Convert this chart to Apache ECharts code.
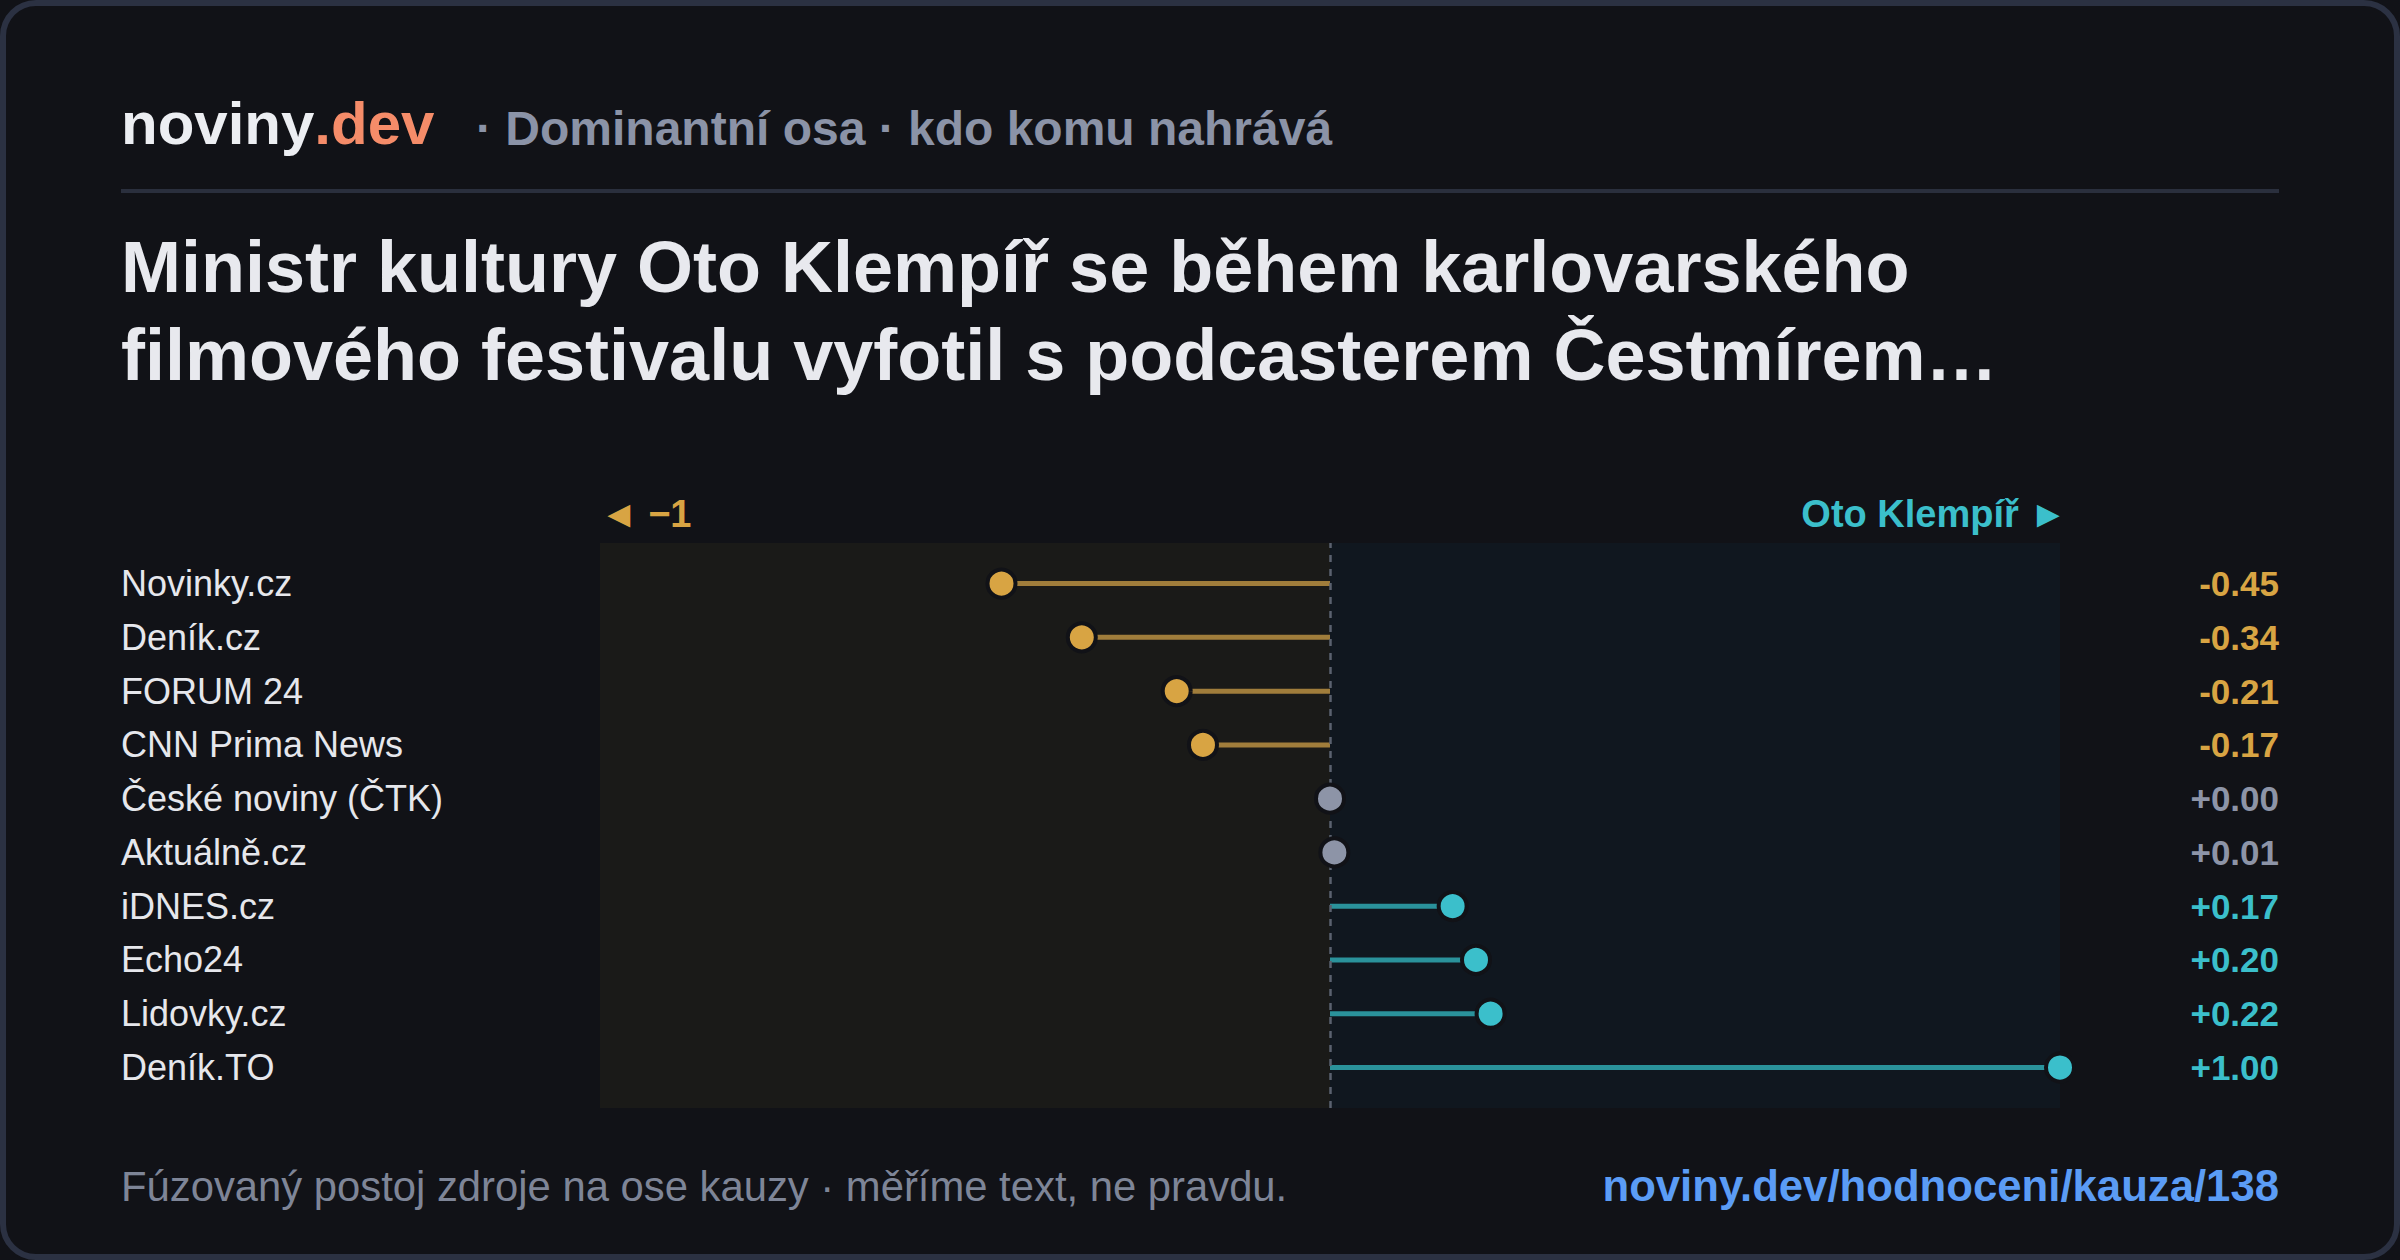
<!DOCTYPE html>
<html>
<head>
<meta charset="utf-8">
<script src="https://cdn.jsdelivr.net/npm/echarts@6/dist/echarts.min.js"></script>
<style>
  html, body { margin: 0; padding: 0; background: #111217; }
  #card {
    position: absolute; left: 0; top: 0; width: 2400px; height: 1260px;
    box-sizing: border-box; border: 6px solid #2b3142; border-radius: 36px;
  }
  #chart { position: absolute; left: 0; top: 0; width: 2400px; height: 1260px; }
</style>
</head>
<body>
<div id="card"></div>
<div id="chart"></div>
<script>
// zdroje a jejich postoj na ose kauzy
var sources = ['Novinky.cz', 'Deník.cz', 'FORUM 24', 'CNN Prima News', 'České noviny (ČTK)',
  'Aktuálně.cz', 'iDNES.cz', 'Echo24', 'Lidovky.cz', 'Deník.TO'];
var stances = [-0.45, -0.34, -0.21, -0.174, 0.0, 0.006, 0.168, 0.20, 0.22, 1.00];
var leftPole = '◄ −1';
var rightPole = 'Oto Klempíř ►';
var axisMin = -1, axisMax = 1;

var FONT = "'Liberation Sans', Arial, sans-serif";
var ORANGE = '#d8a443', TEAL = '#3bbfcb', GRAY = '#8d94a7';

function kind(v) {
  if (Math.abs(v) < 0.05) return 'mid';
  return v < 0 ? 'neg' : 'pos';
}
function dotColor(v) {
  var k = kind(v);
  return k === 'neg' ? ORANGE : (k === 'pos' ? TEAL : GRAY);
}
function stemColor(v) {
  var k = kind(v);
  return k === 'neg' ? '#a07d3b' : (k === 'pos' ? '#2a929b' : '#6b7180');
}
var valueLabels = stances.map(function (v) {
  var s = v.toFixed(2);
  return v < 0 ? s : '+' + s;
});

var ec = echarts.init(document.getElementById('chart'), null, { renderer: 'svg' });

var option = {
  animation: false,
  backgroundColor: 'transparent',
  textStyle: { fontFamily: FONT },
  grid: [
    // podklad panelu
    { left: 600, width: 1460, top: 543, height: 565 },
    // data
    { left: 600, width: 1460, top: 556.7, height: 537.7 }
  ],
  xAxis: [
    { gridIndex: 0, type: 'value', min: axisMin, max: axisMax, show: false },
    { gridIndex: 1, type: 'value', min: axisMin, max: axisMax, show: false }
  ],
  yAxis: [
    { gridIndex: 0, type: 'value', min: 0, max: 1, show: false },
    {
      gridIndex: 1, type: 'category', inverse: true, data: sources,
      axisLine: { show: false }, axisTick: { show: false }, splitLine: { show: false },
      axisLabel: { align: 'left', margin: 479, color: '#e6e7ec', fontSize: 36, fontFamily: FONT }
    },
    {
      gridIndex: 1, type: 'category', inverse: true, position: 'right', data: valueLabels,
      axisLine: { show: false }, axisTick: { show: false }, splitLine: { show: false },
      axisLabel: {
        align: 'right', margin: 219,
        formatter: function (val, idx) { return '{' + kind(stances[idx]) + '|' + val + '}'; },
        rich: {
          neg: { color: ORANGE, fontSize: 35, fontWeight: 'bold', fontFamily: FONT },
          mid: { color: GRAY, fontSize: 35, fontWeight: 'bold', fontFamily: FONT },
          pos: { color: TEAL, fontSize: 35, fontWeight: 'bold', fontFamily: FONT }
        }
      }
    }
  ],
  series: [
    {
      type: 'line', xAxisIndex: 0, yAxisIndex: 0, data: [[0, 0.5]],
      showSymbol: false, silent: true, lineStyle: { opacity: 0 },
      markArea: {
        silent: true,
        data: [
          [{ xAxis: axisMin, itemStyle: { color: '#1a1a18' } }, { xAxis: 0 }],
          [{ xAxis: 0, itemStyle: { color: '#10171f' } }, { xAxis: axisMax }]
        ]
      },
      markLine: {
        silent: true, symbol: 'none', label: { show: false },
        lineStyle: { color: '#5a616f', width: 2.5, type: [7, 7] },
        data: [{ xAxis: 0 }]
      },
      z: 1
    },
    {
      type: 'bar', xAxisIndex: 1, yAxisIndex: 1, barWidth: 5, silent: true,
      data: stances.map(function (v) { return { value: v, itemStyle: { color: stemColor(v) } }; }),
      z: 3
    },
    {
      type: 'scatter', xAxisIndex: 1, yAxisIndex: 1, symbolSize: 28, silent: true,
      data: stances.map(function (v, i) {
        return { value: [v, i], itemStyle: { color: dotColor(v), opacity: 1, borderColor: '#111217', borderWidth: 4 } };
      }),
      z: 5
    }
  ],
  graphic: [
    {
      type: 'text', left: 121, top: 93,
      style: {
        text: '{a|noviny}{b|.dev}',
        rich: {
          a: { fill: '#eceef2', fontSize: 60, fontWeight: 'bold', fontFamily: FONT },
          b: { fill: '#f58c69', fontSize: 60, fontWeight: 'bold', fontFamily: FONT }
        }
      }
    },
    {
      type: 'text', x: 476, y: 128,
      style: { text: '· Dominantní osa · kdo komu nahrává', fill: '#8b93a7', font: 'bold 48px ' + FONT, textVerticalAlign: 'middle' }
    },
    {
      type: 'line', shape: { x1: 121, y1: 191, x2: 2279, y2: 191 },
      style: { stroke: '#2a2f3d', lineWidth: 4 }
    },
    {
      type: 'text', x: 121, y: 267,
      style: { text: 'Ministr kultury Oto Klempíř se během karlovarského', fill: '#e8e9ee', font: 'bold 72px ' + FONT, textVerticalAlign: 'middle' }
    },
    {
      type: 'text', x: 121, y: 355,
      style: { text: 'filmového festivalu vyfotil s podcasterem Čestmírem…', fill: '#e8e9ee', font: 'bold 72px ' + FONT, textVerticalAlign: 'middle' }
    },
    {
      type: 'text', x: 600, y: 514,
      style: { text: leftPole, fill: ORANGE, font: 'bold 38px ' + FONT, textVerticalAlign: 'middle' }
    },
    {
      type: 'text', x: 2067, y: 514,
      style: { text: rightPole, fill: TEAL, font: 'bold 38px ' + FONT, textAlign: 'right', textVerticalAlign: 'middle' }
    },
    {
      type: 'text', x: 121, y: 1186,
      style: { text: 'Fúzovaný postoj zdroje na ose kauzy · měříme text, ne pravdu.', fill: '#7e8597', font: '41.8px ' + FONT, textVerticalAlign: 'middle' }
    },
    {
      type: 'text', x: 2279, y: 1185,
      style: { text: 'noviny.dev/hodnoceni/kauza/138', fill: '#5b9cf5', font: 'bold 43.7px ' + FONT, textAlign: 'right', textVerticalAlign: 'middle' }
    }
  ]
};
ec.setOption(option);
</script>
</body>
</html>
